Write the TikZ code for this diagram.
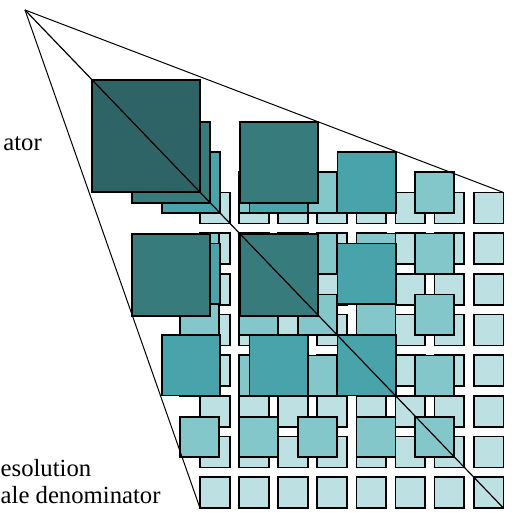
\documentclass[tikz,border=0pt]{standalone}
\usepackage{fontspec}
\setmainfont{Liberation Serif}
\definecolor{tilefine}{HTML}{BDE0E3}
\definecolor{tilefour}{HTML}{84C7CA}
\definecolor{tilethree}{HTML}{48A4AA}
\definecolor{tiletwo}{HTML}{377B7D}
\definecolor{tiletop}{HTML}{2E6466}
\usetikzlibrary{calc}

\begin{document}
\begin{tikzpicture}[x=1pt, y=-1.04pt,
	tile/.style={draw=black, line width=1.7pt},
	ray/.style={draw=black, line width=1pt},
	sidetext/.style={font=\fontsize{24.7}{25}\selectfont\rmfamily, inner sep=0pt}]
	\useasboundingbox (0,0) rectangle (512,493.3);
	% finest level, 8 x 8
	\foreach \i in {0,...,7}
		\foreach \j in {0,...,7}
			\draw[tile, fill=tilefine] ({200+39.11*\i},{185.1+39.11*\j}) rectangle +(29.7,29.7);
	% 5 x 5
	\foreach \i in {0,...,4}
		\foreach \j in {0,...,4}
			\draw[tile, fill=tilefour] ({180.3+58.75*\i},{165.7+58.75*\j}) rectangle +(39,39);
	% 3 x 3
	\foreach \i in {0,...,2}
		\foreach \j in {0,...,2}
			\draw[tile, fill=tilethree] ({161.7+87.85*\i},{146.4+87.85*\j}) rectangle +(58.3,58.3);
	% 2 x 2
	\foreach \i in {0,1}
		\foreach \j in {0,1}
			\draw[tile, fill=tiletwo] ({131.7+108.1*\i},{117+108.1*\j}) rectangle +(78.5,78.5);
	% coarsest level
	\draw[tile, fill=tiletop] (92,76.9) rectangle +(108,108);

	\coordinate (apex) at (25,9.6);
	\coordinate (base-tr) at (503.5,185.1);
	\coordinate (base-bl) at (200,488.6);
	\coordinate (base-br) at (503.5,488.6);
	\draw[ray] (apex) -- (base-tr);
	\draw[ray] (apex) -- (base-bl);
	\draw[ray, line width=1.2pt] (apex) -- (base-br);

	\node[sidetext, anchor=base east] (top-text) at (42,145.2) {ator};
	\node[sidetext, anchor=base west] (res-text) at (0.5,458.4) {esolution};
	\node[sidetext, anchor=base west] (den-text) at (0.5,484.6) {ale denominator};
\end{tikzpicture}
\end{document}
